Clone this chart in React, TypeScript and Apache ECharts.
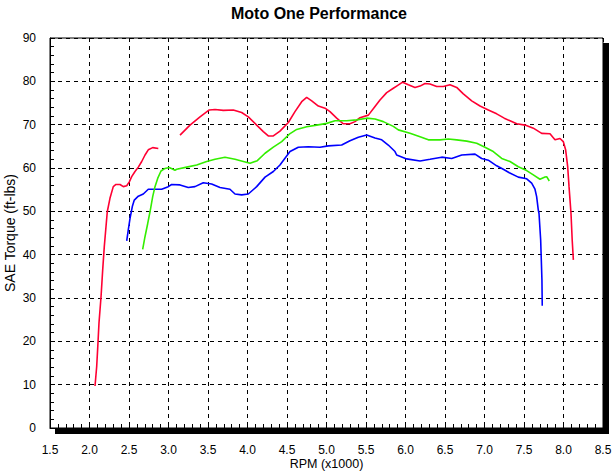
import React, { useEffect, useRef } from "react";
import * as echarts from "echarts";

const TITLE = "Moto One Performance";
const X_NAME = "RPM (x1000)";
const Y_NAME = "SAE Torque (ft-lbs)";

// [rpm x1000, torque ft-lbs]
const redLow: number[][] = [
  [2.07, 9.7], [2.091, 14.2], [2.104, 18.5], [2.12, 24.2], [2.146, 30.3], [2.167, 36.5],
  [2.187, 41.8], [2.209, 46.5], [2.225, 49.9], [2.259, 53], [2.301, 55.7], [2.335, 56.2],
  [2.386, 56.2], [2.428, 55.7], [2.471, 55.9], [2.504, 56.8], [2.534, 58], [2.576, 59.2],
  [2.618, 60.2], [2.661, 61.5], [2.703, 63], [2.744, 64.2], [2.8, 64.7], [2.871, 64.5],
];

const redHigh: number[][] = [
  [3.146, 67.6], [3.272, 69.9], [3.399, 71.8], [3.516, 73.4], [3.589, 73.5], [3.694, 73.3],
  [3.82, 73.4], [3.926, 72.8], [4.01, 71.8], [4.116, 69.9], [4.2, 68.4], [4.263, 67.4],
  [4.327, 67.4], [4.411, 68.5], [4.517, 70.5], [4.601, 73], [4.686, 75.3], [4.749, 76.3],
  [4.813, 75.5], [4.897, 74.3], [4.981, 73.8], [5.044, 73], [5.129, 71.5], [5.213, 70.2],
  [5.297, 70.2], [5.361, 70.7], [5.424, 71.6], [5.53, 72.2], [5.614, 74.2], [5.677, 75.7],
  [5.762, 77.4], [5.846, 78.4], [5.888, 78.9], [5.964, 79.8], [6.036, 79.2], [6.12, 78.6],
  [6.184, 78.9], [6.247, 79.5], [6.31, 79.4], [6.395, 78.8], [6.479, 78.8], [6.563, 79.2],
  [6.648, 78.6], [6.732, 77.1], [6.838, 75.5], [6.943, 74.3], [7.048, 73.4], [7.154, 72.5],
  [7.25, 71.5], [7.323, 70.9], [7.408, 70.2], [7.513, 69.9], [7.618, 69.2], [7.724, 68],
  [7.829, 67.9], [7.892, 66.5], [7.956, 66.8], [7.997, 66.1], [8.027, 64.2], [8.053, 60.3],
  [8.07, 55.7], [8.085, 52], [8.095, 49.5], [8.11, 43.4], [8.125, 38.8],
];

const blue: number[][] = [
  [2.471, 43.2], [2.491, 45.7], [2.513, 48.4], [2.542, 51.1], [2.567, 52.6], [2.618, 53.5],
  [2.681, 54], [2.744, 55.1], [2.808, 55.1], [2.913, 55.1], [2.997, 55.7], [3.04, 56.2],
  [3.146, 56.1], [3.25, 55.5], [3.335, 55.7], [3.44, 56.6], [3.546, 56.3], [3.652, 55.5],
  [3.778, 55.1], [3.842, 54], [3.926, 53.8], [4.01, 54], [4.116, 55.7], [4.222, 57.9],
  [4.327, 59.2], [4.411, 60.7], [4.538, 63.8], [4.643, 64.8], [4.77, 64.9], [4.918, 64.8],
  [5.023, 65.1], [5.192, 65.3], [5.297, 66.3], [5.403, 67.1], [5.509, 67.6], [5.614, 66.9],
  [5.699, 66.5], [5.782, 65.3], [5.867, 63.8], [5.888, 63], [6.015, 62.1], [6.184, 61.6],
  [6.31, 62], [6.458, 62.5], [6.585, 62.2], [6.712, 63], [6.88, 63.2], [6.964, 62.2],
  [7.048, 61.8], [7.154, 60.5], [7.238, 59.7], [7.314, 58.9], [7.428, 57.9], [7.534, 57.5],
  [7.597, 56.5], [7.639, 55.1], [7.66, 53.4], [7.681, 50.3], [7.69, 49.5], [7.711, 43.4],
  [7.719, 38.8], [7.727, 34.2], [7.731, 28.2],
];

const green: number[][] = [
  [2.673, 41.2], [2.703, 44.2], [2.737, 47.2], [2.766, 49.9], [2.8, 53.4], [2.829, 55.7],
  [2.863, 57.6], [2.905, 59.3], [2.956, 59.9], [3.01, 60.1], [3.082, 59.5], [3.104, 59.7],
  [3.23, 60.2], [3.357, 60.7], [3.483, 61.5], [3.589, 62], [3.715, 62.5], [3.842, 62],
  [3.947, 61.5], [4.032, 61.1], [4.124, 61.7], [4.222, 63.4], [4.327, 64.8], [4.433, 66.1],
  [4.529, 67.8], [4.623, 68.9], [4.749, 69.5], [4.876, 69.9], [5.002, 70.3], [5.108, 70.9],
  [5.255, 70.9], [5.382, 71.1], [5.509, 71.5], [5.614, 71.3], [5.719, 70.7], [5.846, 69.6],
  [5.909, 68.8], [6.057, 68], [6.184, 67.2], [6.289, 66.5], [6.437, 66.5], [6.542, 66.7],
  [6.648, 66.5], [6.775, 66.2], [6.901, 65.7], [7.006, 64.8], [7.111, 63.8], [7.218, 62.2],
  [7.323, 61.5], [7.428, 60.3], [7.534, 59.4], [7.618, 58.4], [7.702, 57.4], [7.766, 57.9],
  [7.787, 58], [7.82, 57],
];

const X_MIN = 1.5;
const X_MAX = 8.5;
const X_STEP = 0.5;
const Y_MIN = 0;
const Y_MAX = 90;
const Y_STEP = 10;

const RED = "#ff0033";
const BLUE = "#0000ff";
const GREEN = "#33ee00";
const FONT = "'Liberation Sans', Arial, sans-serif";

export default function App() {
  const ref = useRef<HTMLDivElement>(null);

  useEffect(() => {
    if (!ref.current) return;
    const chart = echarts.init(ref.current, undefined, { renderer: "svg" });

    const line = (data: number[][], color: string) => ({
      type: "line",
      data,
      showSymbol: false,
      symbol: "none",
      lineStyle: { color, width: 1.6 },
      itemStyle: { color },
      z: 5,
    });

    const splitDash = { color: "#000", width: 1, type: [4, 4] as any };

    chart.setOption({
      animation: false,
      backgroundColor: "#fff",
      textStyle: { fontFamily: FONT },
      title: {
        text: TITLE,
        left: 314,
        top: 0,
        textAlign: "center",
        textStyle: { fontFamily: FONT, fontSize: 16, fontWeight: "bold", color: "#000" },
      },
      graphic: [
        {
          type: "rect",
          z: -10,
          silent: true,
          shape: { x: 55, y: 43, width: 554, height: 391 },
          style: { fill: "#000" },
        },
      ],
      grid: {
        left: 50,
        right: 10,
        top: 38,
        bottom: 45,
        containLabel: false,
        outerBoundsMode: "none",
        show: true,
        backgroundColor: "#fff",
        borderColor: "#000",
        borderWidth: 1,
        z: 0,
      },
      xAxis: {
        type: "value",
        min: X_MIN,
        max: X_MAX,
        interval: X_STEP,
        name: X_NAME,
        nameLocation: "middle",
        nameGap: 29,
        nameMoveOverlap: false,
        nameTextStyle: { fontFamily: FONT, fontSize: 12.5, color: "#000" },
        axisLine: { show: true, lineStyle: { color: "#000", width: 1 } },
        axisTick: { show: true, inside: true, length: 5, lineStyle: { color: "#000" } },
        minorTick: { show: true, splitNumber: 5, length: 4, lineStyle: { color: "#000" } },
        axisLabel: {
          margin: 16,
          fontFamily: FONT,
          fontSize: 12,
          color: "#000",
          formatter: (v: number) => v.toFixed(1),
        },
        splitLine: { show: true, lineStyle: splitDash },
      },
      yAxis: {
        type: "value",
        min: Y_MIN,
        max: Y_MAX,
        interval: Y_STEP,
        name: Y_NAME,
        nameLocation: "middle",
        nameGap: 33,
        nameMoveOverlap: false,
        nameTextStyle: { fontFamily: FONT, fontSize: 14, color: "#000" },
        axisLine: { show: true, lineStyle: { color: "#000", width: 1 } },
        axisTick: { show: true, inside: true, length: 5, lineStyle: { color: "#000" } },
        minorTick: { show: true, splitNumber: 5, length: 4, lineStyle: { color: "#000" } },
        axisLabel: { margin: 14, fontFamily: FONT, fontSize: 12, color: "#000" },
        splitLine: { show: true, lineStyle: splitDash },
      },
      series: [line(redLow, RED), line(redHigh, RED), line(blue, BLUE), line(green, GREEN)],
    });

    return () => chart.dispose();
  }, []);

  return (
    <div
      ref={ref}
      style={{ position: "fixed", left: 0, top: 0, width: 613, height: 473 }}
    />
  );
}
